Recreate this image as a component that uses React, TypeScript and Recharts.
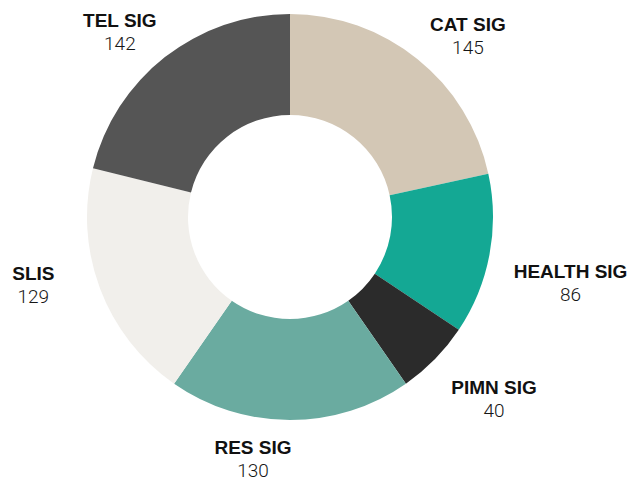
import React from 'react';
import { PieChart, Pie, Cell } from 'recharts';

const groups = ['CAT SIG', 'HEALTH SIG', 'PIMN SIG', 'RES SIG', 'SLIS', 'TEL SIG'];
const members = [145, 86, 40, 130, 129, 142];
const colors = ['#d3c7b5', '#14a894', '#2b2b2b', '#6aaba0', '#f1efeb', '#555555'];

// hand-tuned label nudges (px) from the radial anchor, same order as groups
const labelNudge: Array<[number, number]> = [
  [18, 13],
  [30, 14],
  [22, -2],
  [-37, -18],
  [-18, -27],
  [-13, 11],
];

const data = groups.map((name, i) => ({ name, value: members[i] }));

const RADIAN = Math.PI / 180;

const renderLabel = (props: any) => {
  const { cx, cy, midAngle, index, name, value } = props;
  const r = 255;
  const [dx, dy] = labelNudge[index] || [0, 0];
  const x = cx + r * Math.cos(-midAngle * RADIAN) + dx;
  const y = cy + r * Math.sin(-midAngle * RADIAN) + dy;
  return (
    <g>
      <text
        x={x}
        y={y}
        textAnchor="middle"
        fill="#111111"
        fontFamily="'Liberation Sans', Arial, sans-serif"
        fontWeight={700}
        fontSize={19}
      >
        {name}
      </text>
      <text
        x={x}
        y={y + 23}
        textAnchor="middle"
        fill="#161616"
        fontFamily="Roboto, 'Liberation Sans', sans-serif"
        fontWeight={300}
        fontSize={19}
      >
        {value}
      </text>
    </g>
  );
};

export default function App() {
  return (
    <div style={{ position: 'absolute', left: 0, top: 0, width: 630, height: 483, background: '#ffffff' }}>
      <PieChart width={630} height={483} margin={{ top: 0, right: 0, bottom: 0, left: 0 }}>
        <Pie
          data={data}
          dataKey="value"
          nameKey="name"
          cx={290}
          cy={217}
          innerRadius={102}
          outerRadius={203}
          startAngle={90}
          endAngle={-270}
          stroke="none"
          label={renderLabel}
          labelLine={false}
          isAnimationActive={false}
        >
          {data.map((d, i) => (
            <Cell key={d.name} fill={colors[i]} />
          ))}
        </Pie>
      </PieChart>
    </div>
  );
}
